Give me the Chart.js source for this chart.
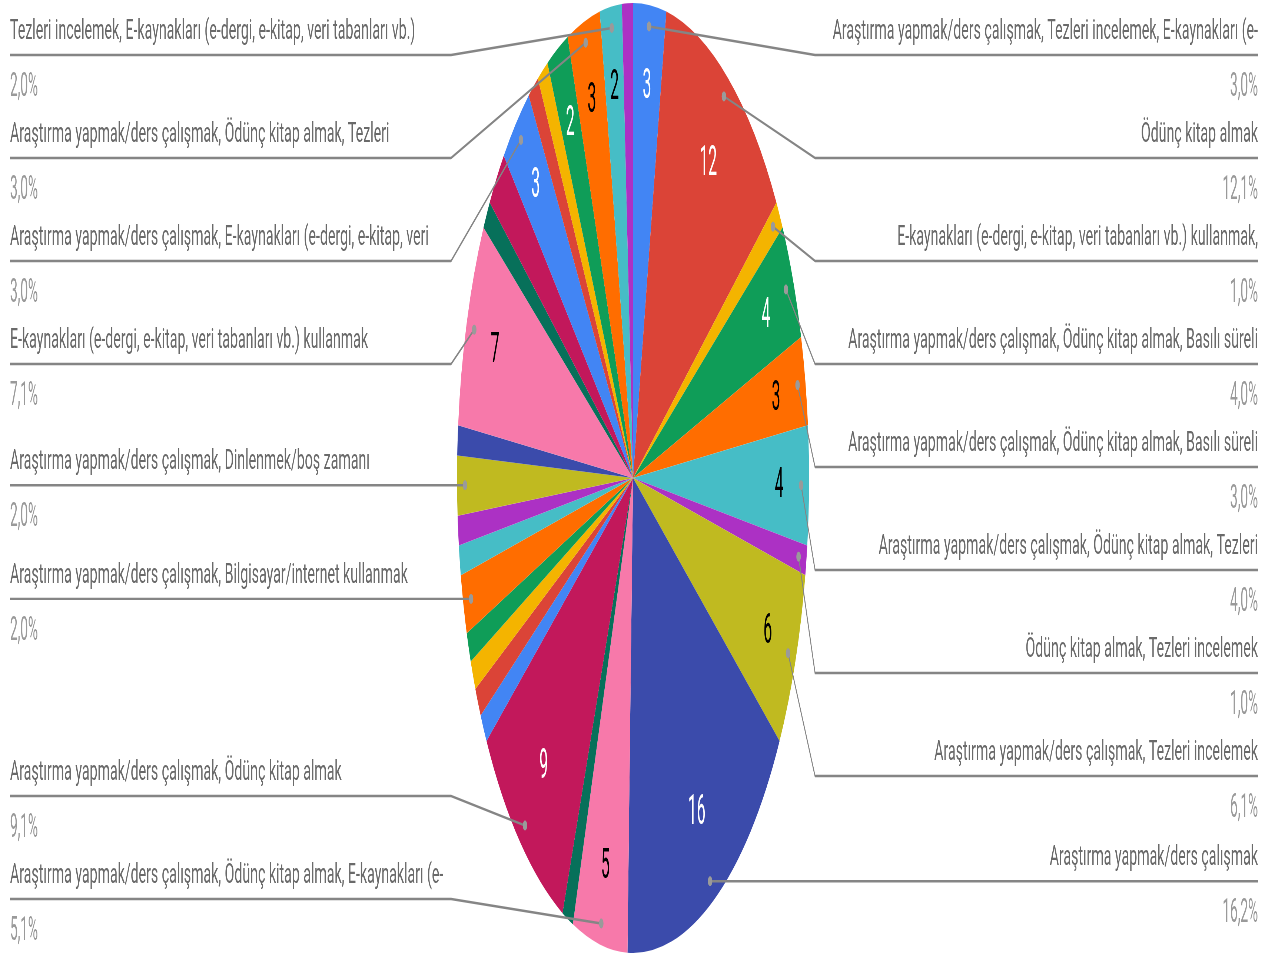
<!DOCTYPE html>
<html><head><meta charset="utf-8">
<script src="https://cdn.jsdelivr.net/npm/chart.js@4.4.0/dist/chart.umd.min.js"></script>
<style>
html,body{margin:0;padding:0;background:#fff;overflow:hidden;width:1277px;height:956px;}
#wrap{position:absolute;left:0;top:0;transform-origin:0 0;}
canvas{display:block;}
</style></head><body>
<div id="wrap"><canvas id="c"></canvas></div>
<script>
const categories = [
  "Araştırma yapmak/ders çalışmak, Tezleri incelemek, E-kaynakları (e-",
  "Ödünç kitap almak",
  "E-kaynakları (e-dergi, e-kitap, veri tabanları vb.) kullanmak,",
  "Araştırma yapmak/ders çalışmak, Ödünç kitap almak, Basılı süreli",
  "Araştırma yapmak/ders çalışmak, Ödünç kitap almak, Basılı süreli",
  "Araştırma yapmak/ders çalışmak, Ödünç kitap almak, Tezleri",
  "Ödünç kitap almak, Tezleri incelemek",
  "Araştırma yapmak/ders çalışmak, Tezleri incelemek",
  "Araştırma yapmak/ders çalışmak",
  "Araştırma yapmak/ders çalışmak, Ödünç kitap almak, E-kaynakları (e-",
  "Basılı süreli yayınları incelemek",
  "Araştırma yapmak/ders çalışmak, Ödünç kitap almak",
  "Ödünç kitap almak, E-kaynakları (e-dergi, e-kitap, veri tabanları vb.)",
  "Tezleri incelemek",
  "Dinlenmek/boş zamanı değerlendirmek",
  "Bilgisayar/internet kullanmak",
  "Araştırma yapmak/ders çalışmak, Bilgisayar/internet kullanmak",
  "Ödünç kitap almak, Bilgisayar/internet kullanmak",
  "Araştırma yapmak/ders çalışmak, Basılı süreli yayınları incelemek",
  "Araştırma yapmak/ders çalışmak, Dinlenmek/boş zamanı",
  "Ödünç kitap almak, Dinlenmek/boş zamanı",
  "E-kaynakları (e-dergi, e-kitap, veri tabanları vb.) kullanmak",
  "Ödünç kitap almak, Basılı süreli yayınları incelemek",
  "Araştırma yapmak/ders çalışmak, Ödünç kitap almak, Bilgisayar/internet",
  "Araştırma yapmak/ders çalışmak, E-kaynakları (e-dergi, e-kitap, veri",
  "Grup çalışması yapmak",
  "Tezleri incelemek, Basılı süreli yayınları incelemek",
  "Araştırma yapmak/ders çalışmak, Ödünç kitap almak, Dinlenmek/boş",
  "Araştırma yapmak/ders çalışmak, Ödünç kitap almak, Tezleri",
  "Tezleri incelemek, E-kaynakları (e-dergi, e-kitap, veri tabanları vb.)",
  "Ödünç kitap almak, Tezleri incelemek, E-kaynakları"
];
const values = [3, 12, 1, 4, 3, 4, 1, 6, 16, 5, 1, 9,
                1, 1, 1, 1, 2, 1, 1, 2, 1, 7, 1, 2,
                3, 1, 1, 2, 3, 2, 1];
const palette = ["#4285F4", "#DB4437", "#F4B400", "#0F9D58", "#FF6D00", "#46BDC6",
                 "#AC31C4", "#C0BA20", "#3B4BAB", "#F779AA", "#07705A", "#C2185B"];
// slices that carry a side legend entry / an inside value label
const legendIdx = [0, 1, 2, 3, 4, 5, 6, 7, 8, 9, 11, 16, 19, 21, 24, 28, 29];
const inlineIdx = [0, 1, 3, 4, 5, 7, 8, 9, 11, 21, 24, 27, 28, 29];

const PAGE_W = 1277, PAGE_H = 956;
const SX = 176 / 475;              // horizontal squash of the whole drawing
const CW = Math.ceil(PAGE_W / SX);
const CENTER_X = 633;              // screen x of pie centre
const colors = values.map((v, i) => palette[i % palette.length]);

function textOn(hex) {
  const r = parseInt(hex.substr(1, 2), 16), g = parseInt(hex.substr(3, 2), 16), b = parseInt(hex.substr(5, 2), 16);
  const l = 0.2126 * r + 0.7152 * g + 0.0722 * b;
  return l > 130 ? "#000000" : "#ffffff";
}
function pct(v, total) { return (v / total * 100).toFixed(1).replace('.', ',') + '%'; }

const labelPlugin = {
  id: 'gLabels',
  afterDatasetsDraw(chart) {
    const ctx = chart.ctx;
    const meta = chart.getDatasetMeta(0);
    const total = values.reduce((a, b) => a + b, 0);
    const a0 = meta.data[0];
    const cx = a0.x, cy = a0.y, R = a0.outerRadius;

    // inside value labels
    ctx.save();
    ctx.font = '42px Roboto';
    ctx.textAlign = 'center';
    ctx.textBaseline = 'middle';
    inlineIdx.forEach(i => {
      const a = meta.data[i];
      const mid = (a.startAngle + a.endAngle) / 2;
      const f = values[i] >= 9 ? 0.79 : 0.83;
      ctx.fillStyle = textOn(colors[i]);
      ctx.fillText(String(values[i]), cx + Math.cos(mid) * R * f, cy + Math.sin(mid) * R * f + 2);
    });
    ctx.restore();

    // side legend entries
    const items = legendIdx.map(i => {
      const a = meta.data[i];
      const mid = (a.startAngle + a.endAngle) / 2;
      const dx = cx + Math.cos(mid) * R * 0.955;
      const dy = cy + Math.sin(mid) * R * 0.955;
      return { i, dx, dy, right: Math.cos(mid) >= 0 };
    });
    const TOP = 55, BOT = 899, GAP = 103;
    [true, false].forEach(side => {
      const list = items.filter(it => it.right === side).sort((p, q) => p.dy - q.dy);
      let prev = -Infinity;
      list.forEach(it => { it.ly = Math.max(it.dy, TOP, prev + GAP); prev = it.ly; });
      let next = Infinity;
      for (let k = list.length - 1; k >= 0; k--) { list[k].ly = Math.min(list[k].ly, BOT, next - GAP); next = list[k].ly; }
    });

    const rS = R * SX;
    const cxS = cx * SX;
    function drawText(txt, xS, y, align, font, ax, color) {
      ctx.save();
      ctx.translate(xS / SX, y);
      ctx.scale(ax / SX, 1);
      ctx.font = font;
      ctx.textAlign = align;
      ctx.textBaseline = 'alphabetic';
      ctx.fillStyle = color;
      ctx.fillText(txt, 0, 0);
      ctx.restore();
    }
    items.forEach(it => {
      const elbowS = it.right ? cxS + rS + 6 : cxS - rS - 6;
      const endS = it.right ? 1258 : 10;
      ctx.save();
      ctx.strokeStyle = '#858585';
      ctx.lineWidth = 2.4;
      ctx.beginPath();
      ctx.moveTo(it.dx, it.dy);
      ctx.lineTo(elbowS / SX, it.ly);
      ctx.lineTo(endS / SX, it.ly);
      ctx.stroke();
      ctx.fillStyle = '#9a9a9a';
      ctx.beginPath();
      ctx.ellipse(it.dx, it.dy, 5 / SX * 0.45, 5, 0, 0, Math.PI * 2);
      ctx.fill();
      ctx.restore();
      const align = it.right ? 'right' : 'left';
      drawText(categories[it.i], endS, it.ly - 16, align, '27px Roboto', 0.524, '#6a6a6a');
      drawText(pct(values[it.i], total), endS, it.ly + 41, align, '34px Roboto', 0.40, '#9a9a9a');
    });
  }
};

const wrap = document.getElementById('wrap');
const canvas = document.getElementById('c');
canvas.width = CW; canvas.height = PAGE_H;
wrap.style.width = CW + 'px'; wrap.style.height = PAGE_H + 'px';
wrap.style.transform = 'scaleX(' + SX + ')';
const padRight = Math.round(CW - 2 * (CENTER_X / SX));

new Chart(canvas, {
  type: 'pie',
  data: {
    labels: categories,
    datasets: [{ data: values, backgroundColor: colors, borderWidth: 0 }]
  },
  options: {
    responsive: false,
    animation: false,
    devicePixelRatio: 1,
    layout: { padding: { top: 3, bottom: 3, left: 0, right: padRight } },
    plugins: { legend: { display: false }, tooltip: { enabled: false } }
  },
  plugins: [labelPlugin]
});
</script>
</body></html>
